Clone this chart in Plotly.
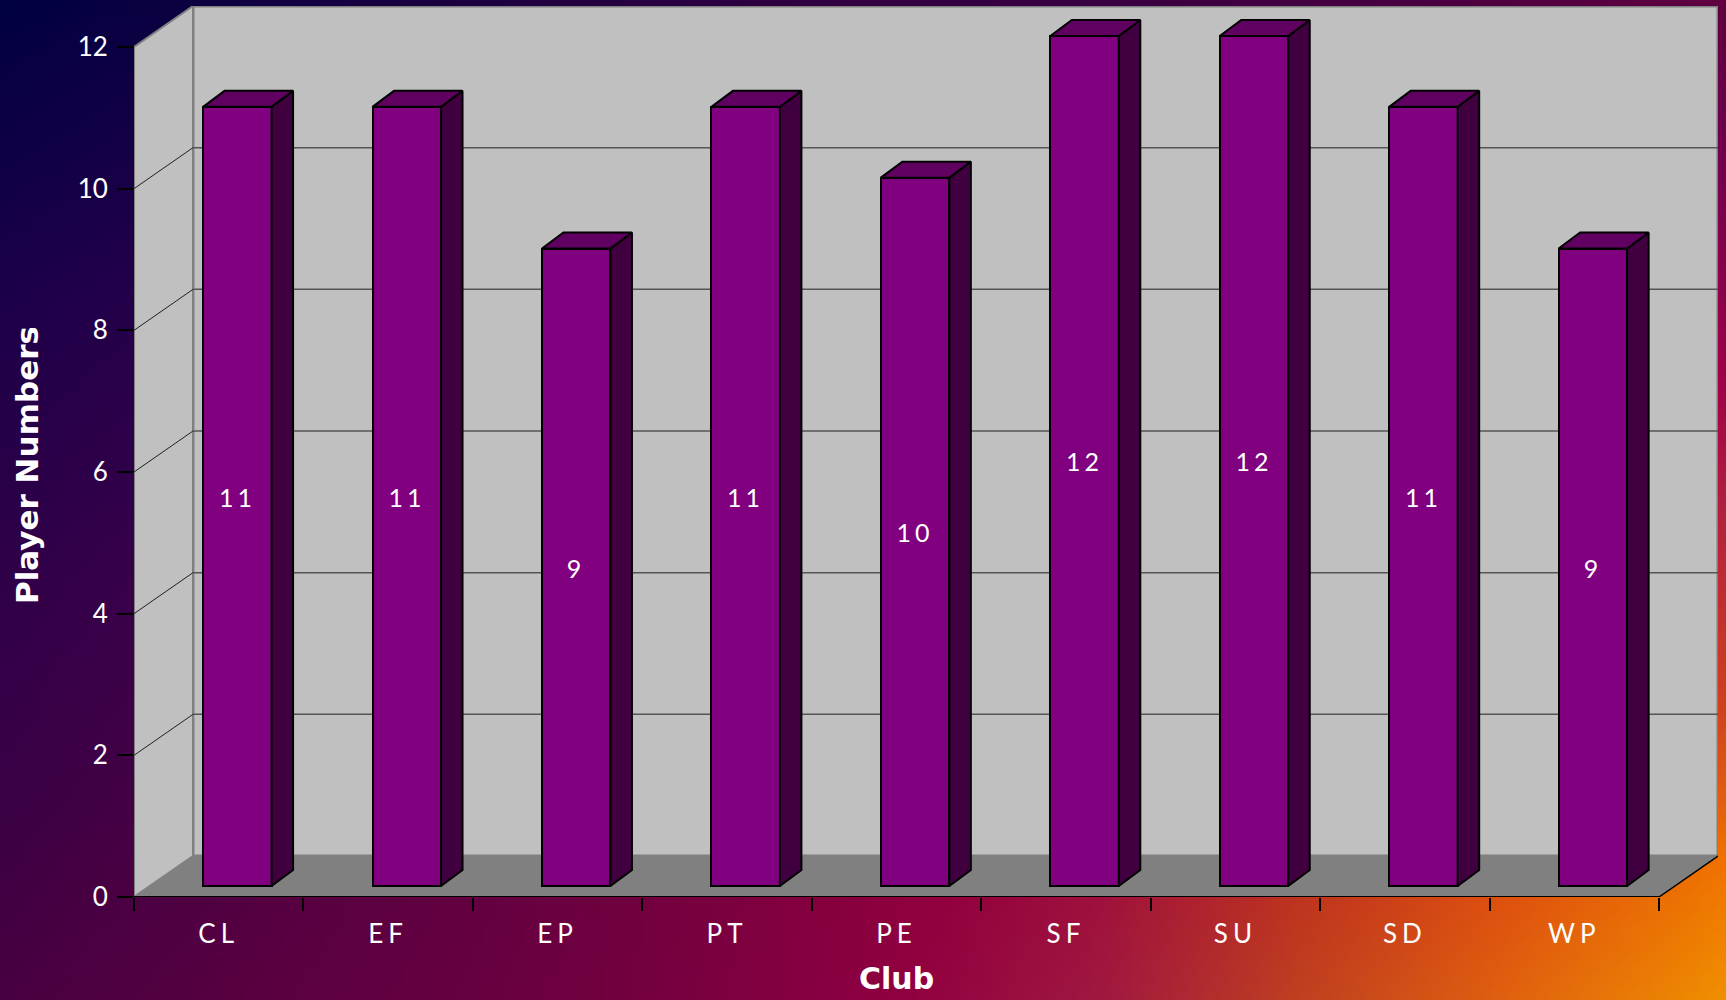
import base64
import struct
import zlib
import plotly.graph_objects as go

# ---------------- data ----------------
clubs = ["CL", "EF", "EP", "PT", "PE", "SF", "SU", "SD", "WP"]
players = [11, 11, 9, 11, 10, 12, 12, 11, 9]
y_tick_vals = [0, 2, 4, 6, 8, 10, 12]
y_max = 12

# ---------------- geometry (pixels of the 1726x1000 page) ----------------
W, H = 1726, 1000
FRONT_L, FRONT_R = 134, 1659      # front x-axis extent
FRONT_B, FRONT_T = 897, 47        # y pixel of 0 and of y_max on the front plane
DEPTH_PX_X, DEPTH_PX_Y = 59, 41   # oblique depth of the walls

n = len(clubs)
ux = (FRONT_R - FRONT_L) / n          # px per category
uy = (FRONT_B - FRONT_T) / y_max      # px per unit value
DX = DEPTH_PX_X / ux
DY = DEPTH_PX_Y / uy
x_lo, x_front_hi = -0.5, n - 0.5
x_hi = x_front_hi + DX
y_hi = y_max + DY

PLOT_L, PLOT_R = FRONT_L, FRONT_R + DEPTH_PX_X
PLOT_B, PLOT_T = FRONT_B, FRONT_T - DEPTH_PX_Y

# bar box parameters (axis units)
FACE_DX = 18.6 / ux
BASE = 11 / uy
BAR_W = 68.5 / ux
BAR_DDX = 21.5 / ux
BAR_DDY = 16 / uy

FRONT_COL = "#800080"
TOP_COL = "#600060"
SIDE_COL = "#400040"

# ---------------- background gradient (PNG) ----------------
top_stops = [(0, "#000040"), (400, "#180040"), (800, "#300040"), (1100, "#380040"), (1400, "#480040"), (1726, "#600040")]
bottom_stops = [(0, "#480040"), (600, "#700040"), (900, "#900040"), (1100, "#a01840"), (1300, "#c04020"), (1500, "#e06010"), (1726, "#f09000")]
left_stops = [(0, "#000040"), (300, "#1c0048"), (600, "#300048"), (800, "#3a0045"), (1000, "#480040")]
right_stops = [(0, "#600040"), (150, "#700050"), (380, "#a00048"), (500, "#b02040"), (600, "#c03030"), (700, "#d04020"), (800, "#e06010"), (850, "#f07000"), (1000, "#f09000")]


def hex2rgb(h):
    return [int(h[i:i + 2], 16) for i in (1, 3, 5)]


def interp(stops, p):
    for (p0, c0), (p1, c1) in zip(stops, stops[1:]):
        if p <= p1:
            t = (p - p0) / (p1 - p0)
            t = max(0.0, min(1.0, t))
            a, b = hex2rgb(c0), hex2rgb(c1)
            return [a[k] + (b[k] - a[k]) * t for k in range(3)]
    return hex2rgb(stops[-1][1])


GW, GH = 173, 100
T0, T1 = hex2rgb(top_stops[0][1]), hex2rgb(top_stops[-1][1])
B0, B1 = hex2rgb(bottom_stops[0][1]), hex2rgb(bottom_stops[-1][1])
rows = []
for j in range(GH):
    py = (j + 0.5) * H / GH
    v = py / H
    Lc, Rc = interp(left_stops, py), interp(right_stops, py)
    row = bytearray()
    for i in range(GW):
        px = (i + 0.5) * W / GW
        u = px / W
        Tc, Bc = interp(top_stops, px), interp(bottom_stops, px)
        for k in range(3):
            c = ((1 - v) * Tc[k] + v * Bc[k] + (1 - u) * Lc[k] + u * Rc[k]
                 - ((1 - u) * (1 - v) * T0[k] + u * (1 - v) * T1[k] + (1 - u) * v * B0[k] + u * v * B1[k]))
            row.append(int(max(0, min(255, round(c)))))
    rows.append(bytes(row))


def chunk(tag, data):
    return struct.pack(">I", len(data)) + tag + data + struct.pack(">I", zlib.crc32(tag + data) & 0xFFFFFFFF)


raw = b"".join(b"\x00" + r for r in rows)
png = (b"\x89PNG\r\n\x1a\n" + chunk(b"IHDR", struct.pack(">IIBBBBB", GW, GH, 8, 2, 0, 0, 0))
       + chunk(b"IDAT", zlib.compress(raw, 9)) + chunk(b"IEND", b""))
bg_src = "data:image/png;base64," + base64.b64encode(png).decode()


def spaced(s, px):
    return f"<span style='letter-spacing:{px}px'>{s}</span>"


# ---------------- figure ----------------
fig = go.Figure()

xs = list(range(n))
face_x = [x + FACE_DX for x in xs]

fig.add_trace(go.Bar(
    x=face_x, y=players, base=BASE, width=BAR_W,
    marker=dict(color=FRONT_COL, line=dict(color="black", width=2)),
    text=[spaced(str(v), 4) for v in players], textposition="inside", insidetextanchor="middle",
    textangle=0, constraintext="none",
    insidetextfont=dict(family="Lato, Open Sans, sans-serif", size=25, color="white"),
    hoverinfo="skip", showlegend=False,
))

top_x, top_y, side_x, side_y = [], [], [], []
for fx, v in zip(face_x, players):
    x0, x1 = fx - BAR_W / 2, fx + BAR_W / 2
    b, t = BASE, BASE + v
    top_x += [x0, x1, x1 + BAR_DDX, x0 + BAR_DDX, x0, None]
    top_y += [t, t, t + BAR_DDY, t + BAR_DDY, t, None]
    side_x += [x1, x1, x1 + BAR_DDX, x1 + BAR_DDX, x1, None]
    side_y += [b, t, t + BAR_DDY, b + BAR_DDY, b, None]

fig.add_trace(go.Scatter(x=side_x, y=side_y, mode="lines", fill="toself", fillcolor=SIDE_COL,
                         line=dict(color="black", width=2), hoverinfo="skip", showlegend=False))
fig.add_trace(go.Scatter(x=top_x, y=top_y, mode="lines", fill="toself", fillcolor=TOP_COL,
                         line=dict(color="black", width=2), hoverinfo="skip", showlegend=False))

shapes = []
# back wall
shapes.append(dict(type="rect", xref="x", yref="y", x0=x_lo + DX, x1=x_hi, y0=DY, y1=y_hi,
                   fillcolor="#c0c0c0", line=dict(color="#808080", width=3), layer="below"))
# left side wall
shapes.append(dict(type="path", xref="x", yref="y",
                   path=f"M {x_lo},0 L {x_lo},{y_max} L {x_lo + DX},{y_hi} L {x_lo + DX},{DY} Z",
                   fillcolor="#c0c0c0", line=dict(color="#808080", width=2), layer="below"))
# floor
shapes.append(dict(type="path", xref="x", yref="y",
                   path=f"M {x_lo},0 L {x_front_hi},0 L {x_hi},{DY} L {x_lo + DX},{DY} Z",
                   fillcolor="#808080", line=dict(width=0), layer="below"))
# gridlines
for v in y_tick_vals[1:-1]:
    shapes.append(dict(type="line", xref="x", yref="y", x0=x_lo + DX, x1=x_hi, y0=v + DY, y1=v + DY,
                       line=dict(color="#555555", width=1.5), layer="below"))
    shapes.append(dict(type="line", xref="x", yref="y", x0=x_lo, x1=x_lo + DX, y0=v, y1=v + DY,
                       line=dict(color="#202020", width=1), layer="below"))
# front axis line and right floor edge
shapes.append(dict(type="line", xref="x", yref="y", x0=x_lo, x1=x_front_hi, y0=0, y1=0,
                   line=dict(color="black", width=2), layer="below"))
shapes.append(dict(type="line", xref="x", yref="y", x0=x_front_hi, x1=x_hi, y0=0, y1=DY,
                   line=dict(color="black", width=1.5), layer="below"))

tick_font = dict(family="Lato, Open Sans, sans-serif", size=26, color="white")
xtitle_font = dict(family="DejaVu Sans, Verdana, sans-serif", size=30, color="white", weight="bold")
ytitle_font = dict(family="DejaVu Sans, Verdana, sans-serif", size=31, color="white", weight="bold")

fig.update_layout(
    width=W, height=H,
    margin=dict(l=0, r=0, t=0, b=0, pad=0, autoexpand=False),
    paper_bgcolor="#300040", plot_bgcolor="rgba(0,0,0,0)",
    showlegend=False, bargap=0,
    shapes=shapes,
    images=[dict(source=bg_src, xref="paper", yref="paper", x=0, y=1, sizex=1, sizey=1,
                 sizing="stretch", xanchor="left", yanchor="top", layer="below")],
    xaxis=dict(domain=[PLOT_L / W, PLOT_R / W], range=[x_lo, x_hi], showgrid=False, zeroline=False,
               showline=False, automargin=False, tickmode="array", tickvals=xs,
               ticktext=[spaced(c, 5) for c in clubs], ticks="",
               tickfont=tick_font, ticklabelstandoff=19,
               minor=dict(tickmode="array", tickvals=[x - 0.5 for x in range(n + 1)], ticks="outside",
                          ticklen=13, tickwidth=1.5, tickcolor="black", showgrid=False)),
    yaxis=dict(domain=[1 - PLOT_B / H, 1 - PLOT_T / H], range=[0, y_hi], showgrid=False, zeroline=False,
               showline=False, automargin=False, tickmode="array", tickvals=y_tick_vals, ticks="outside",
               ticklen=16, tickwidth=1.5, tickcolor="black", tickfont=tick_font, ticklabelstandoff=4),
    annotations=[
        dict(text="Club", xref="paper", yref="paper", x=897 / W, y=1 - 978 / H, showarrow=False,
             xanchor="center", yanchor="middle", font=xtitle_font),
        dict(text="Player Numbers", xref="paper", yref="paper", x=27 / W, y=1 - 466 / H, showarrow=False,
             xanchor="center", yanchor="middle", textangle=-90, width=276, height=40, align="left",
             font=ytitle_font),
    ],
)

fig.write_html("out.html", config={"displayModeBar": False},
               post_script="document.body.style.margin='0';document.body.style.overflow='hidden';")
